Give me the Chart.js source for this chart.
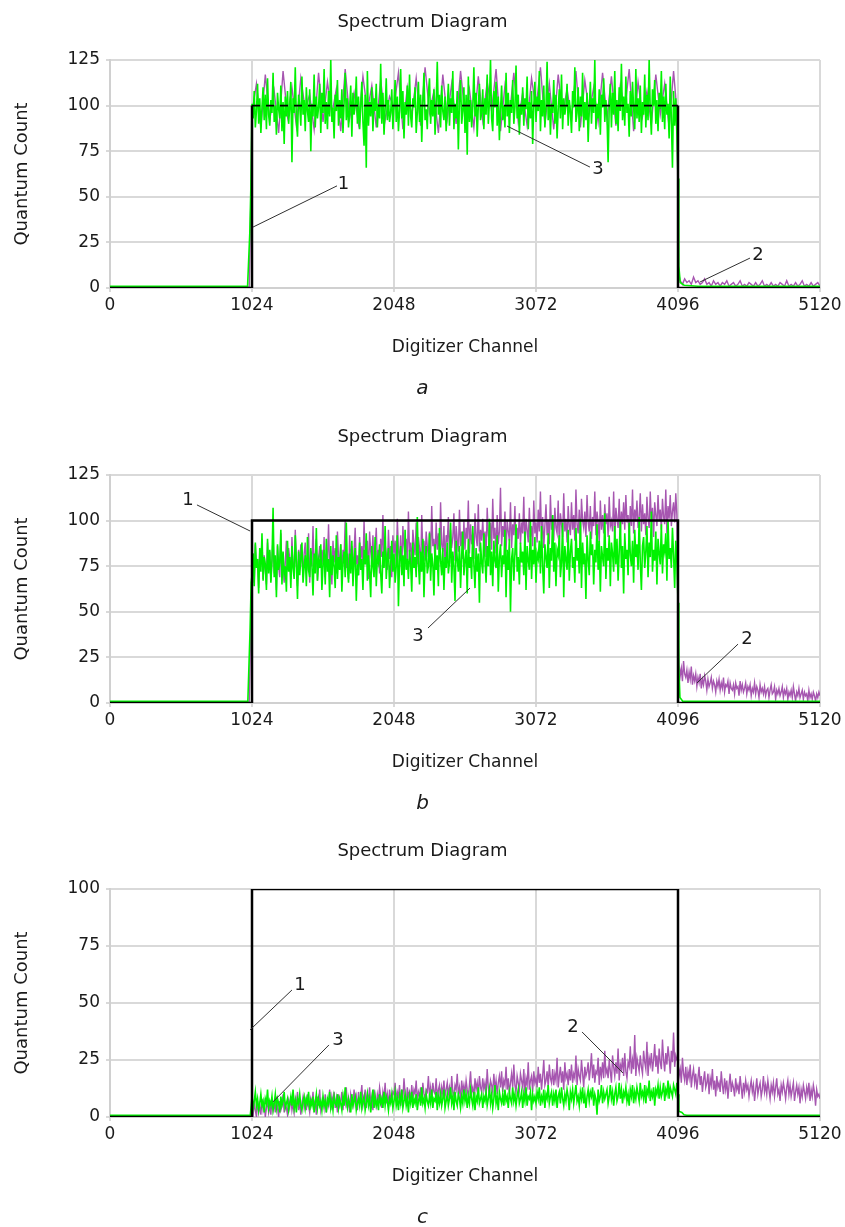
<!DOCTYPE html>
<html><head><meta charset="utf-8">
<script src="https://cdn.jsdelivr.net/npm/chart.js@4/dist/chart.umd.min.js"></script>
<style>
html,body{margin:0;padding:0;background:#fff;overflow:hidden;width:845px;height:1227px;position:relative;}
canvas{position:absolute;left:0;}
</style></head><body>
<canvas id="pa" width="845" height="414" style="top:0px"></canvas>
<canvas id="pb" width="845" height="414" style="top:415px"></canvas>
<canvas id="pc" width="845" height="414" style="top:829px"></canvas>
<script>
// ---------- axes ----------
const xTicks = [0, 1024, 2048, 3072, 4096, 5120];
const yTicksAB = [0, 25, 50, 75, 100, 125];
const yTicksC = [0, 25, 50, 75, 100];
const captions = ['a', 'b', 'c'];

// ---------- curve 1: ideal pulse (channel, count) ----------
const idealPulse = [[0, 0], [1024, 0], [1024, 100], [4096, 100], [4096, 0], [5120, 0]];

// ---------- panel a ----------
const aGreenIn = [[0, 1], [992, 1], [1008, 30], [1016, 56]];
// channels 1024..4088, step 8
const aGreenPlateau = [
 101,93,108,88,97,112,90,104,85,99,110,92,106,87,115,95,
 89,103,96,118,91,100,84,107,98,93,111,86,102,79,105,94,
 108,90,99,113,69,104,96,121,92,83,106,100,89,116,95,103,
 86,110,97,91,109,75,101,94,117,88,105,93,99,112,85,107,
 96,120,90,102,87,108,94,125,91,99,82,106,97,114,89,103,
 93,109,85,101,118,92,104,88,98,111,83,107,95,100,116,90,
 105,87,99,113,91,78,106,66,119,89,102,94,110,86,104,97,
 112,88,101,93,123,90,107,84,98,115,92,103,91,96,109,87,
 100,114,91,105,86,97,120,93,108,82,102,95,111,89,117,94,
 88,104,99,110,85,96,113,91,106,80,101,118,92,98,87,107,
 115,90,103,94,109,84,100,124,95,106,88,111,97,92,105,86,
 99,112,89,104,96,119,87,101,93,108,76,102,114,90,97,110,
 85,106,73,116,91,103,88,99,121,94,107,83,100,112,92,96,
 109,87,104,95,117,90,102,125,93,86,108,99,113,89,105,81,
 97,111,92,100,88,118,94,107,85,103,96,114,90,99,122,93,
 106,84,101,95,110,89,104,98,116,87,102,93,108,79,100,113,
 91,105,97,119,86,103,94,111,88,99,124,92,107,84,101,96,
 114,90,106,82,98,109,93,117,87,104,95,100,112,89,103,97,
 85,108,99,121,91,96,110,86,105,94,118,88,102,92,107,80,
 98,113,90,104,96,125,87,101,93,109,84,106,99,115,91,103,
 94,69,100,112,88,107,95,119,90,103,86,110,97,123,92,105,
 89,116,96,101,83,108,94,113,99,87,120,93,104,91,111,85,
 102,95,117,88,106,92,125,97,84,109,100,114,90,103,86,107,
 98,119,91,105,87,112,95,101,82,116,93,66,108,89,104,84];
const aGreenOut = [[4096, 60], [4102, 12], [4112, 3], [4140, 1.5], [4240, 1], [5120, 1]];
const aPurpleIn = [[0, 0.5], [1004, 0.5], [1016, 50]];
// channels 1024..4064, step 32
const aPurplePlateau = [
 96,112,88,117,92,108,85,119,94,110,89,115,98,106,87,118,
 91,113,95,109,86,120,93,107,90,116,97,111,88,114,92,105,
 99,118,87,110,94,115,89,121,96,108,85,117,93,112,90,119,
 95,109,88,116,92,113,97,120,86,111,94,118,91,107,89,115,
 98,121,90,112,87,117,95,109,92,119,88,114,96,110,91,118,
 93,116,89,111,97,120,86,113,94,108,90,117,95,112,88,119];
const aPurpleDrop = [[4090, 95], [4100, 8]];
// channels 4112..5120, step 16
const aPurpleTail = [
 4,2,5,3,4,2,6,3,4,2,3,5,2,3,1,4,
 2,3,1,3,2,4,1,2,3,1,2,4,1,2,1,3,
 2,1,3,1,2,4,1,2,1,3,1,2,1,3,2,1,
 4,1,2,1,3,1,2,4,1,2,1,3,1,2,3,1];

// ---------- panel b ----------
const bGreenIn = [[0, 1], [994, 1], [1010, 40], [1018, 66]];
// channels 1024..4088, step 8
const bGreenPlateau = [
 70,82,64,88,74,79,60,85,72,93,67,80,76,62,90,71,
 84,66,78,107,69,81,58,87,73,77,95,65,83,71,75,61,
 89,72,80,63,86,74,68,92,77,57,83,70,79,88,66,75,
 81,64,91,73,69,85,76,59,82,71,96,67,78,74,87,62,
 76,84,65,90,72,79,58,86,70,81,75,63,92,68,80,73,
 87,61,77,83,69,99,74,66,82,71,89,64,78,85,56,76,
 70,88,73,79,62,84,76,93,67,81,72,58,86,75,69,91,
 64,80,77,87,71,60,83,74,97,68,79,85,63,76,89,72,
 82,66,75,92,53,78,86,70,81,64,95,73,79,68,84,76,
 61,88,74,80,69,102,77,65,83,72,90,58,79,86,71,75,
 93,67,82,76,59,87,73,81,64,96,78,70,85,62,80,74,
 88,71,77,99,66,83,75,56,89,79,72,86,63,81,94,70,
 78,84,60,90,74,80,68,97,76,63,85,72,82,55,88,77,
 71,93,79,66,86,75,101,70,83,64,89,78,74,92,61,80,
 87,69,81,76,95,58,84,73,90,50,79,85,67,82,98,72,
 80,65,88,77,83,70,94,62,86,78,73,100,68,84,76,91,
 66,82,79,89,71,97,75,60,87,80,74,93,63,85,78,103,
 72,88,64,84,81,92,69,77,99,58,86,79,73,95,67,83,
 90,74,80,66,96,78,85,71,101,63,88,76,82,57,92,79,
 70,94,81,87,65,84,77,98,73,89,61,86,80,75,104,68,
 85,78,92,64,88,82,72,97,76,90,67,83,100,74,86,60,
 93,79,84,70,99,81,75,89,66,95,80,87,73,102,77,62,
 86,91,74,83,97,69,88,80,105,72,84,78,94,65,90,82,
 76,98,71,87,83,93,67,100,79,85,74,96,81,63,89,78];
const bGreenOut = [[4096, 55], [4102, 20], [4110, 3], [4130, 1], [5120, 1]];
const bPurpleIn = [[0, 0.5], [1004, 0.5], [1016, 45]];
// channels 1024..4088, step 8
const bPurplePlateau = [
 70,82,66,87,74,79,63,84,76,90,68,81,73,65,88,75,
 83,67,78,92,71,80,62,86,75,69,93,72,82,66,77,89,
 73,85,79,68,91,76,70,95,78,64,84,74,87,80,69,82,
 88,71,77,93,66,83,75,97,72,81,90,67,79,86,74,84,
 76,91,69,82,78,98,73,80,65,89,77,85,71,94,80,75,
 87,70,84,79,100,74,82,68,92,77,86,72,83,96,76,81,
 70,91,79,86,74,100,81,76,89,68,94,83,78,92,72,85,
 96,77,84,71,90,80,103,75,87,82,73,95,79,86,69,92,
 82,89,75,101,84,78,92,71,97,86,80,90,77,105,83,88,
 74,95,87,81,99,76,91,85,72,103,82,89,78,94,86,80,
 94,79,108,86,90,77,99,84,93,81,110,87,83,97,75,92,
 88,102,80,95,85,91,104,78,97,89,83,106,86,94,79,100,
 84,96,90,111,82,98,87,93,79,104,91,86,109,83,95,89,
 101,85,94,80,107,92,88,99,84,112,90,96,82,103,87,94,
 118,86,97,91,105,83,100,94,89,110,85,98,92,108,81,96,
 90,104,87,99,93,113,84,101,95,88,107,91,97,86,111,93,
 99,88,106,94,116,90,102,85,97,109,92,100,87,114,95,103,
 89,107,96,93,111,86,104,98,91,115,94,101,88,108,97,92,
 110,95,103,89,117,98,93,106,87,112,100,96,105,91,114,99,
 94,108,90,102,97,116,92,105,99,88,111,95,103,93,109,98,
 104,91,113,97,100,94,116,89,107,101,96,112,92,105,98,110,
 95,114,99,103,90,108,97,117,93,106,100,111,96,102,115,94,
 109,98,104,92,113,101,96,116,99,107,91,110,103,97,114,100,
 106,95,112,102,98,117,93,108,101,114,97,105,110,99,115,103];
const bPurpleDrop = [[4094, 60], [4099, 30]];
// channels 4104..5120, step 8
const bPurpleTail = [
 21,15,19,12,23,16,14,18,11,17,13,20,10,15,12,16,
 9,14,11,16,8,13,10,15,12,7,13,9,11,14,8,12,
 10,6,12,9,13,7,11,8,14,6,10,9,12,5,11,8,
 7,10,5,11,8,9,4,12,7,10,6,8,11,5,9,7,
 10,4,8,6,11,5,9,7,3,10,6,8,5,9,4,7,
 8,3,7,10,5,6,9,2,7,5,8,4,6,9,3,7,
 5,8,2,6,4,7,3,9,5,1,6,4,8,3,5,7,
 2,6,4,5,1,7,3,5,2,6,4,1,5,3,6,4];

// ---------- panel c ----------
const cGreenIn = [[0, 0.8], [1012, 0.8]];
// channels 1024..4088, step 8
const cGreenPlateau = [
 9,4,7,11,5,8,3,6,10,5,7,2,8,6,12,4,
 7,5,9,3,6,10,4,8,6,2,9,5,7,11,4,6,
 8,3,6,9,5,12,4,7,2,8,6,10,5,3,7,9,
 4,8,6,11,3,7,5,9,2,6,10,4,8,5,7,3,
 9,5,7,2,8,6,11,4,7,3,9,6,5,10,4,8,
 6,3,9,5,13,7,4,8,6,2,10,5,7,9,3,6,
 8,5,11,4,7,9,3,6,10,5,8,2,7,12,4,9,
 5,7,3,10,6,8,4,11,5,9,7,3,8,6,10,4,
 7,11,5,8,3,9,6,12,4,7,10,5,8,2,9,6,
 11,4,8,6,10,3,7,9,5,13,6,8,4,10,7,5,
 9,6,12,4,8,7,11,3,9,6,10,5,8,12,4,7,
 10,5,8,13,6,9,3,11,7,5,10,8,4,9,6,12,
 7,10,4,9,6,12,8,5,11,3,9,7,13,6,8,10,
 4,9,7,11,5,8,12,6,10,4,8,14,6,9,3,11,
 8,6,10,5,12,7,9,4,11,8,6,13,7,10,5,9,
 12,6,8,11,4,10,7,13,5,9,8,11,3,10,7,9,
 6,11,8,13,5,9,7,12,4,10,8,14,6,9,11,5,
 10,7,12,4,9,11,6,13,8,5,10,7,12,9,3,11,
 8,12,6,10,14,7,9,5,11,8,13,6,10,4,9,12,
 7,11,9,13,5,10,8,1,12,7,9,14,6,11,8,10,
 12,6,9,14,8,11,5,10,13,7,9,15,8,12,6,11,
 9,13,7,10,5,12,9,14,6,11,8,13,10,7,15,9,
 11,8,14,6,12,10,16,7,11,9,13,5,12,10,14,8,
 13,9,11,15,7,12,10,16,8,13,11,9,14,12,10,15];
const cGreenOut = [[4096, 10], [4102, 2.5], [4124, 2], [4140, 1], [4160, 0.8], [5120, 0.8]];
const cPurpleIn = [[0, 0.4], [1012, 0.4]];
// channels 1024..4088, step 8
const cPurplePlateau = [
 4,1,6,3,0,7,2,5,1,8,3,6,0,4,7,2,
 5,1,8,3,6,2,9,4,0,7,3,5,10,2,6,4,
 1,7,4,9,3,6,2,8,5,11,3,7,1,6,9,4,
 7,3,10,5,2,8,6,11,4,7,1,9,5,12,3,6,
 8,4,10,2,7,5,12,3,9,6,11,4,8,2,10,5,
 7,11,3,9,6,13,4,8,2,10,7,5,12,6,9,3,
 11,6,9,14,5,8,12,4,10,7,13,6,9,3,12,8,
 5,10,7,13,9,4,11,8,15,6,10,5,12,8,7,11,
 10,15,7,11,9,14,5,12,8,17,10,6,13,9,11,7,
 14,8,12,10,16,7,11,9,13,6,15,10,8,12,11,18,
 9,13,7,15,11,10,17,8,12,14,6,13,10,16,9,12,
 15,10,13,8,18,11,9,14,12,19,10,13,7,16,11,14,
 10,16,12,9,14,20,11,13,8,17,12,15,10,18,13,11,
 17,12,15,10,21,13,9,16,14,11,19,12,16,10,15,18,
 13,20,11,16,14,22,12,17,10,15,19,13,23,14,11,18,
 15,12,19,16,13,21,10,17,14,24,12,16,18,11,20,15,
 17,13,22,15,19,12,18,25,14,16,20,13,23,17,15,21,
 14,19,16,26,13,18,22,15,20,12,24,17,19,14,21,16,
 23,15,19,17,27,14,21,18,16,25,19,13,22,18,20,24,
 16,21,28,17,23,15,20,19,26,14,22,18,24,17,29,19,
 21,17,25,20,15,27,22,18,24,19,30,16,23,21,26,18,
 28,20,17,24,22,31,19,25,21,36,18,26,23,20,27,22,
 19,29,24,21,33,18,26,23,28,20,25,32,22,27,19,30,
 24,21,34,25,20,28,23,31,26,19,29,24,37,22,27,25];
// channels 4096..5120, step 8
const cPurpleTail = [
 24,18,21,15,26,19,16,22,14,20,17,23,13,18,21,15,
 19,12,17,22,14,18,11,16,20,13,15,19,10,17,14,21,
 12,16,9,18,13,15,11,20,14,10,17,12,16,8,14,19,
 11,15,13,9,17,12,14,10,18,13,8,15,11,16,12,14,
 9,13,16,11,14,7,12,17,10,13,15,9,12,18,11,14,
 10,16,12,8,14,11,15,9,13,17,10,12,7,14,11,15,
 12,8,13,16,10,14,9,12,15,7,11,14,10,13,6,12,
 9,14,11,8,13,10,15,7,12,9,14,11,5,12,9,10,
 8];

// ---------- numbered callouts (data coords: label centre, leader start, leader end) ----------
const aNotes = [
 {text: '1', label: [1684, 57], from: [1637, 56], to: [1031, 33.4]},
 {text: '3', label: [3519, 65], from: [3461, 66.3], to: [2863, 88.8]},
 {text: '2', label: [4673, 17.8], from: [4615, 16.4], to: [4255, 3.3]}];
const bNotes = [
 {text: '1', label: [562, 111.3], from: [627, 108.6], to: [1010, 94.3]},
 {text: '3', label: [2221, 36.7], from: [2293, 41.1], to: [2596, 63]},
 {text: '2', label: [4593, 35.1], from: [4529, 32.3], to: [4233, 11]}];
const cNotes = [
 {text: '1', label: [1370, 57.9], from: [1312, 55.7], to: [1010, 38.2]},
 {text: '3', label: [1644, 33.8], from: [1579, 31.6], to: [1175, 6.6]},
 {text: '2', label: [3339, 39.5], from: [3404, 37.3], to: [3699, 19.3]}];

// ---------- builders ----------
const pairs = arr => arr.map(([x, y]) => ({x, y}));
const seg = (start, step, values) => values.map((v, i) => ({x: start + i * step, y: v}));

const FONT = "'DejaVu Sans', Verdana, sans-serif";
const GREEN = '#00f200', PURPLE = '#a656b0', TEXT = '#1a1a1a', GRID = '#d9d9d9';

const leaders = {
  id: 'leaders',
  afterDatasetsDraw(chart, args, opts) {
    const {ctx, scales: {x, y}} = chart;
    ctx.save();
    ctx.strokeStyle = '#303030';
    ctx.lineWidth = 1;
    ctx.font = "18px " + FONT;
    ctx.fillStyle = TEXT;
    ctx.textAlign = 'center';
    ctx.textBaseline = 'middle';
    for (const n of opts.notes || []) {
      ctx.beginPath();
      ctx.moveTo(x.getPixelForValue(n.from[0]), y.getPixelForValue(n.from[1]));
      ctx.lineTo(x.getPixelForValue(n.to[0]), y.getPixelForValue(n.to[1]));
      ctx.stroke();
      ctx.fillText(n.text, x.getPixelForValue(n.label[0]), y.getPixelForValue(n.label[1]));
    }
    ctx.restore();
  }
};

function makeChart(id, green, purple, yTicks, notes, caption, dashedTop) {
  const yMax = yTicks[yTicks.length - 1];
  const isTop = c => c.p0.parsed.y > 0 && c.p1.parsed.y > 0 && c.p0.parsed.x !== c.p1.parsed.x;
  return new Chart(document.getElementById(id), {
    type: 'line',
    data: {
      datasets: [
        {data: pairs(idealPulse), borderColor: '#000', borderWidth: 2.5, pointRadius: 0, tension: 0,
          borderJoinStyle: 'miter',
          segment: {
            borderDash: c => (dashedTop && isTop(c)) ? [8, 6] : undefined,
            borderWidth: c => (dashedTop && isTop(c)) ? 1.6 : undefined
          }},
        {data: green, borderColor: GREEN, borderWidth: 1.6, pointRadius: 0, tension: 0},
        {data: purple, borderColor: PURPLE, borderWidth: 1.4, pointRadius: 0, tension: 0}
      ]
    },
    options: {
      responsive: false, animation: false, events: [],
      layout: {padding: {left: 0, right: 0, top: 0, bottom: 0}},
      plugins: {
        legend: {display: false}, tooltip: {enabled: false},
        title: {display: true, text: 'Spectrum Diagram', color: TEXT,
          font: {family: FONT, size: 18, weight: 'normal'}, padding: {top: 11.2, bottom: 27.2}},
        subtitle: {display: true, position: 'bottom', text: caption, color: TEXT,
          font: {family: FONT, size: 20, style: 'italic', weight: 'normal'}, padding: {top: 15.3, bottom: 13}},
        leaders: {notes}
      },
      scales: {
        x: {type: 'linear', min: xTicks[0], max: xTicks[xTicks.length - 1],
          afterBuildTicks: s => { s.ticks = xTicks.map(v => ({value: v})); },
          ticks: {color: TEXT, font: {family: FONT, size: 17}, padding: 3, maxRotation: 0, autoSkip: false, callback: v => String(v)},
          grid: {color: GRID, lineWidth: 2, tickLength: 4},
          border: {color: '#d0d0d0', width: 2},
          title: {display: true, text: 'Digitizer Channel', color: TEXT, font: {family: FONT, size: 17}, padding: {top: 0, bottom: 4}},
          afterFit: s => { s.height = 73.7; }
        },
        y: {type: 'linear', min: 0, max: yMax,
          afterBuildTicks: s => { s.ticks = yTicks.map(v => ({value: v})); },
          ticks: {color: TEXT, font: {family: FONT, size: 17}, padding: 6, callback: v => String(v)},
          grid: {color: GRID, lineWidth: 2, tickLength: 4},
          border: {color: '#d0d0d0', width: 2},
          title: {display: true, text: 'Quantum Count', color: TEXT, font: {family: FONT, size: 18}, padding: {top: 11.2, bottom: 0}},
          afterFit: s => { s.width = 110; }
        },
        yr: {type: 'linear', position: 'right', display: true,
          ticks: {display: false}, grid: {display: false}, border: {display: false},
          afterFit: s => { s.width = 25; }
        }
      }
    },
    plugins: [leaders]
  });
}

makeChart('pa',
  [...pairs(aGreenIn), ...seg(1024, 8, aGreenPlateau), ...pairs(aGreenOut)],
  [...pairs(aPurpleIn), ...seg(1024, 32, aPurplePlateau), ...pairs(aPurpleDrop), ...seg(4112, 16, aPurpleTail)],
  yTicksAB, aNotes, captions[0], true);
makeChart('pb',
  [...pairs(bGreenIn), ...seg(1024, 8, bGreenPlateau), ...pairs(bGreenOut)],
  [...pairs(bPurpleIn), ...seg(1024, 8, bPurplePlateau), ...pairs(bPurpleDrop), ...seg(4104, 8, bPurpleTail)],
  yTicksAB, bNotes, captions[1], false);
makeChart('pc',
  [...pairs(cGreenIn), ...seg(1024, 8, cGreenPlateau), ...pairs(cGreenOut)],
  [...pairs(cPurpleIn), ...seg(1024, 8, cPurplePlateau), ...seg(4096, 8, cPurpleTail)],
  yTicksC, cNotes, captions[2], false);
</script></body></html>
